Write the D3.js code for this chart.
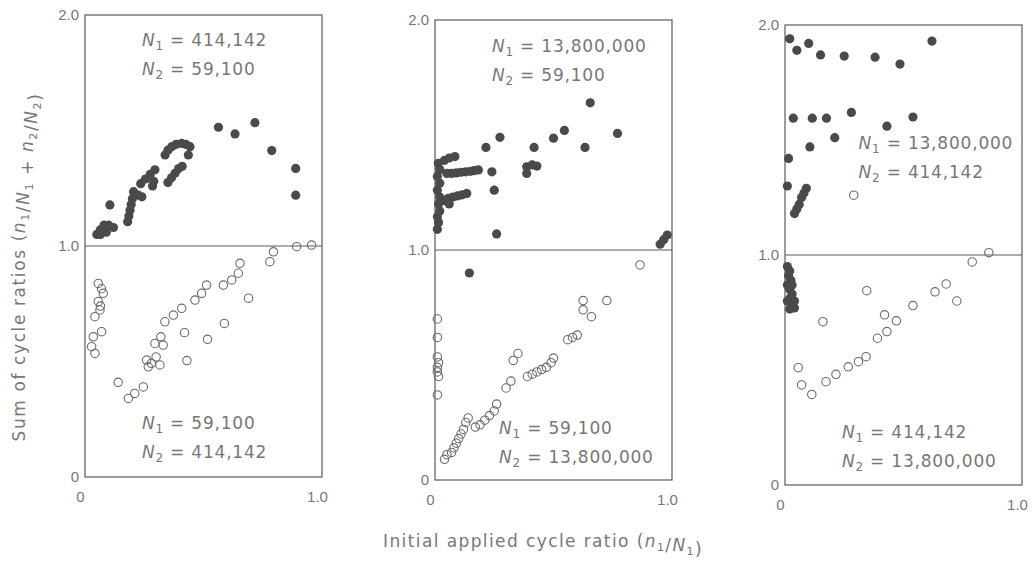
<!DOCTYPE html>
<html>
<head>
<meta charset="utf-8">
<script src="https://cdn.jsdelivr.net/npm/d3@7"></script>
<style>
  body { margin: 0; background: #fff; }
  svg { display: block; font-family: "Liberation Sans", Arial, sans-serif; }
  .note, .title { font-family: "DejaVu Sans", sans-serif; }
</style>
</head>
<body>
<div id="chart"></div>
<script>
// axis ticks
const xTicks = [0, 1.0];
const yTicks = [0, 1.0, 2.0];

// panel 1 : N1 = 414,142 / N2 = 59,100 (filled) and reverse (open)
const p1Filled = [
  [0.05,1.05],[0.065,1.07],[0.08,1.09],[0.10,1.09],[0.12,1.08],[0.065,1.05],[0.09,1.06],
  [0.105,1.178],
  [0.18,1.105],[0.185,1.13],[0.19,1.155],[0.195,1.18],[0.20,1.205],[0.205,1.235],[0.225,1.22],[0.24,1.213],
  [0.235,1.27],[0.255,1.29],[0.275,1.31],[0.295,1.33],[0.285,1.26],[0.29,1.28],
  [0.35,1.275],[0.365,1.295],[0.38,1.315],[0.395,1.335],[0.41,1.345],
  [0.338,1.394],[0.35,1.415],[0.366,1.43],[0.385,1.44],[0.408,1.444],[0.425,1.44],[0.443,1.43],[0.436,1.394],
  [0.563,1.514],[0.633,1.485],[0.717,1.534],[0.788,1.413],[0.889,1.336],[0.889,1.22]
];
const p1Open = [
  [0.056,0.838],[0.077,0.795],[0.056,0.76],[0.063,0.723],[0.042,0.694],[0.07,0.815],[0.065,0.74],
  [0.035,0.607],[0.07,0.629],[0.028,0.564],[0.042,0.535],
  [0.14,0.41],
  [0.183,0.34],[0.21,0.362],[0.246,0.39],
  [0.26,0.506],[0.28,0.492],[0.316,0.485],[0.267,0.477],[0.30,0.52],
  [0.295,0.578],[0.33,0.571],[0.32,0.607],
  [0.337,0.672],[0.373,0.701],[0.408,0.73],
  [0.42,0.625],[0.43,0.504],[0.517,0.596],
  [0.464,0.766],[0.492,0.795],[0.513,0.831],
  [0.588,0.665],
  [0.584,0.831],[0.619,0.853],[0.647,0.882],[0.654,0.925],
  [0.69,0.774],[0.78,0.932],[0.795,0.975],
  [0.893,0.997],[0.956,1.004]
];

// panel 2 : N1 = 13,800,000 / N2 = 59,100 (filled) and N1 = 59,100 / N2 = 13,800,000 (open)
const p2Filled = [
  [0.01,1.09],[0.015,1.12],[0.01,1.145],[0.02,1.17],[0.015,1.20],[0.02,1.23],[0.01,1.26],[0.02,1.29],
  [0.01,1.32],[0.02,1.35],[0.014,1.377],[0.04,1.39],[0.06,1.40],[0.084,1.406],
  [0.05,1.333],[0.07,1.333],[0.09,1.335],[0.11,1.338],[0.13,1.34],[0.15,1.342],[0.165,1.345],[0.183,1.348],
  [0.04,1.215],[0.056,1.225],[0.075,1.23],[0.095,1.235],[0.115,1.24],[0.134,1.246],[0.06,1.20],
  [0.24,1.34],[0.25,1.26],[0.215,1.446],[0.274,1.49],[0.26,1.07],
  [0.387,1.333],[0.43,1.365],[0.387,1.362],[0.41,1.37],
  [0.418,1.446],[0.50,1.486],[0.546,1.52],[0.633,1.446],[0.655,1.64],[0.77,1.507],
  [0.95,1.025],[0.965,1.045],[0.98,1.065],
  [0.145,0.90]
];
const p2Open = [
  [0.01,0.70],[0.01,0.62],[0.01,0.535],[0.015,0.51],[0.01,0.49],[0.01,0.47],[0.015,0.45],[0.01,0.37],
  [0.04,0.09],[0.05,0.11],[0.07,0.12],[0.08,0.14],[0.09,0.16],[0.10,0.18],[0.11,0.20],[0.12,0.22],[0.13,0.25],[0.14,0.27],
  [0.17,0.23],[0.19,0.24],[0.21,0.26],[0.23,0.28],[0.25,0.30],[0.26,0.33],
  [0.30,0.40],[0.32,0.43],[0.33,0.52],[0.35,0.55],
  [0.39,0.45],[0.41,0.46],[0.43,0.47],[0.45,0.48],[0.47,0.49],[0.49,0.51],[0.50,0.53],
  [0.56,0.61],[0.58,0.62],[0.60,0.63],
  [0.625,0.78],[0.66,0.71],[0.725,0.78],[0.625,0.74],
  [0.865,0.935]
];

// panel 3 : N1 = 13,800,000 / N2 = 414,142 (filled) and N1 = 414,142 / N2 = 13,800,000 (open)
const p3Filled = [
  [0.02,1.94],[0.05,1.89],[0.10,1.92],[0.15,1.87],[0.25,1.865],[0.38,1.86],[0.485,1.83],[0.62,1.93],
  [0.035,1.595],[0.115,1.595],[0.175,1.595],[0.28,1.62],[0.43,1.56],[0.54,1.60],
  [0.21,1.51],[0.105,1.47],[0.015,1.42],[0.01,1.30],
  [0.04,1.18],[0.05,1.20],[0.06,1.22],[0.07,1.25],[0.08,1.27],[0.09,1.29],
  [0.01,0.95],[0.02,0.93],[0.015,0.91],[0.025,0.89],[0.03,0.87],[0.02,0.85],[0.03,0.83],
  [0.02,0.81],[0.04,0.80],[0.03,0.78],[0.02,0.765],[0.04,0.77],[0.01,0.87],[0.01,0.80]
];
const p3Open = [
  [0.29,1.26],
  [0.345,0.845],[0.16,0.71],[0.056,0.51],[0.07,0.435],[0.113,0.394],
  [0.173,0.449],[0.215,0.481],[0.267,0.514],[0.31,0.536],[0.342,0.558],
  [0.39,0.638],[0.43,0.667],[0.47,0.714],[0.42,0.74],
  [0.54,0.78],[0.633,0.84],[0.68,0.874],[0.725,0.80],[0.79,0.97],[0.86,1.01]
];

// annotation labels: [N1 value, N2 value, x, y (data units of baseline)]
const p1Notes = [["414,142","59,100",0.24,1.865],["59,100","414,142",0.24,0.208]];
const p2Notes = [["13,800,000","59,100",0.24,1.86],["59,100","13,800,000",0.27,0.20]];
const p3Notes = [["13,800,000","414,142",0.31,1.46],["414,142","13,800,000",0.24,0.204]];

const width = 1032, height = 561;
const ink = "#5a5a5a", textCol = "#777";

const svg = d3.select("#chart").append("svg")
  .attr("width", width).attr("height", height);

const panels = [
  {filled: p1Filled, open: p1Open, notes: p1Notes, left: 85,  top: 15, w: 237, h: 462},
  {filled: p2Filled, open: p2Open, notes: p2Notes, left: 435, top: 20, w: 237, h: 460},
  {filled: p3Filled, open: p3Open, notes: p3Notes, left: 785, top: 25, w: 237, h: 460}
];

panels.forEach(p => {
  const x = d3.scaleLinear().domain([0, 1]).range([0, p.w]);
  const y = d3.scaleLinear().domain([0, 2]).range([p.h, 0]);

  const g = svg.append("g").attr("transform", "translate(" + p.left + "," + p.top + ")");

  // frame and 1.0 divider
  g.append("rect")
    .attr("width", p.w).attr("height", p.h)
    .attr("fill", "none").attr("stroke", ink).attr("stroke-width", 1.2);
  g.append("line")
    .attr("x1", 0).attr("x2", p.w)
    .attr("y1", y(1)).attr("y2", y(1))
    .attr("stroke", ink).attr("stroke-width", 1.2);

  // axes (ticks hidden, labels only)
  const yAxis = d3.axisLeft(y).tickValues(yTicks).tickSize(0).tickPadding(6)
    .tickFormat(d => d === 0 ? "0" : d3.format(".1f")(d));
  g.append("g").call(yAxis)
    .call(a => a.select(".domain").remove())
    .selectAll("text").attr("fill", textCol).style("font-size", "15px");

  const xAxis = d3.axisBottom(x).tickValues(xTicks).tickSize(0).tickPadding(14)
    .tickFormat(d => d === 0 ? "0" : d3.format(".1f")(d));
  g.append("g").attr("transform", "translate(-5," + p.h + ")").call(xAxis)
    .call(a => a.select(".domain").remove())
    .selectAll("text").attr("fill", textCol).style("font-size", "15px");

  // points
  g.selectAll(".filled").data(p.filled).enter().append("circle")
    .attr("class", "filled")
    .attr("cx", d => x(d[0])).attr("cy", d => y(d[1]))
    .attr("r", 4.6)
    .attr("fill", "#4a4a4a");

  g.selectAll(".open").data(p.open).enter().append("circle")
    .attr("class", "open")
    .attr("cx", d => x(d[0])).attr("cy", d => y(d[1]))
    .attr("r", 4.2)
    .attr("fill", "none").attr("stroke", "#6a6a6a").attr("stroke-width", 1.1);

  // N1 / N2 notes
  p.notes.forEach(n => {
    [[1, n[0], 0], [2, n[1], 29]].forEach(row => {
      const t = g.append("text")
        .attr("class", "note")
        .attr("x", x(n[2])).attr("y", y(n[3]) + row[2])
        .attr("fill", textCol).style("font-size", "17px").style("letter-spacing", "0.8px");
      t.append("tspan").attr("font-style", "italic").text("N");
      t.append("tspan").attr("dy", 4).style("font-size", "12px").text(row[0]);
      t.append("tspan").attr("dy", -4).text(" = " + row[1]);
    });
  });
});

function ratio(t, parts) {
  parts.forEach(s => {
    if (s[1] === "i") t.append("tspan").attr("font-style", "italic").text(s[0]);
    else if (s[1] === "sub") {
      t.append("tspan").attr("dy", 4).style("font-size", "11px").text(s[0]);
      t.append("tspan").attr("dy", -4).text("");
    }
    else t.append("tspan").text(s[0]);
  });
}

// y axis title
const yt = svg.append("text")
  .attr("class", "title")
  .attr("transform", "translate(25,267) rotate(-90)")
  .attr("text-anchor", "middle")
  .attr("fill", textCol).style("font-size", "17px").style("letter-spacing", "1.6px");
ratio(yt, [["Sum of cycle ratios ("], ["n","i"], ["1","sub"], ["/"], ["N","i"], ["1","sub"], [" + "],
           ["n","i"], ["2","sub"], ["/"], ["N","i"], ["2","sub"], [")"]]);

// x axis title
const xt = svg.append("text")
  .attr("class", "title")
  .attr("x", 543).attr("y", 547)
  .attr("text-anchor", "middle")
  .attr("fill", textCol).style("font-size", "17px").style("letter-spacing", "1.4px");
ratio(xt, [["Initial applied cycle ratio ("], ["n","i"], ["1","sub"], ["/"], ["N","i"], ["1","sub"], [")"]]);
</script>
</body>
</html>
